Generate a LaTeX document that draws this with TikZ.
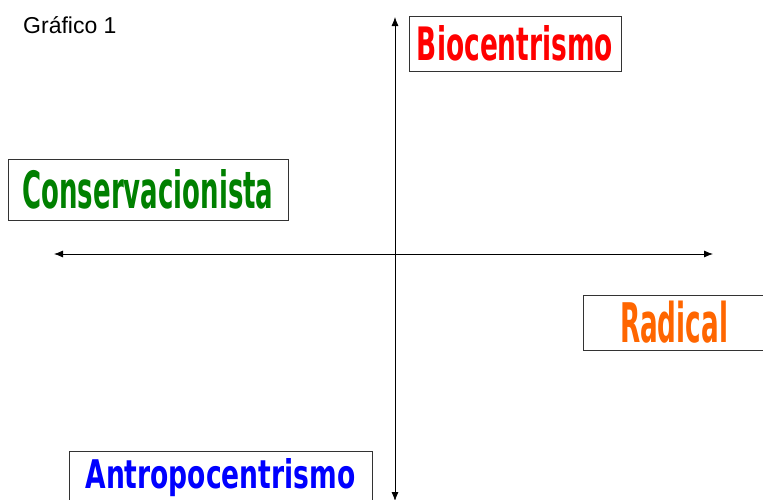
\documentclass[tikz,border=0pt]{standalone}
\usepackage{fontspec}
\setmainfont{Liberation Sans}
\newfontfamily\labelfont{DejaVu Sans}
\usetikzlibrary{arrows.meta}
\tikzset{labelbox/.style={draw=black!80, line width=0.8pt, inner sep=0pt, fill=white}}
\newcommand{\boxtext}[4]{\textcolor{#1}{\resizebox{#2pt}{#3pt}{\labelfont\bfseries #4}}}
\definecolor{verde}{RGB}{0,128,0}
\definecolor{laranja}{RGB}{255,102,0}

\begin{document}
\begin{tikzpicture}[x=1pt, y=-1pt]
	%%%%% START %%%%%
	\useasboundingbox (0,0) rectangle (763,499);
	
	\node[anchor=base west, inner sep=0pt, font=\fontsize{23}{26}\selectfont] (titulo) at (23,33) {Gráfico 1};
	
	\coordinate (cima) at (395,17);
	\coordinate (baixo) at (395,501);
	\coordinate (esquerda) at (54,254);
	\coordinate (direita) at (713,254);
	
	\draw[line width=0.8pt, {Latex[length=9pt,width=7pt]}-{Latex[length=9pt,width=7pt]}] (esquerda) -- (direita);
	\draw[line width=0.8pt, {Latex[length=9pt,width=7pt]}-{Latex[length=9pt,width=7pt]}] (cima) -- (baixo);
	
	\node[labelbox, minimum width=212pt, minimum height=55pt] (bio) at (515,43.5) {\boxtext{red}{196}{35}{Biocentrismo}};
	\node[labelbox, minimum width=280pt, minimum height=61pt] (cons) at (148,189.5) {\boxtext{verde}{251}{39}{Conservacionista}};
	\node[labelbox, minimum width=182pt, minimum height=55pt] (rad) at (674,322.5) {\boxtext{laranja}{108}{41.5}{Radical}};
	\node[labelbox, minimum width=303pt, minimum height=60pt, text height=30pt, text depth=16pt] (antro) at (220.5,481) {\boxtext{blue}{270}{30}{Antropocentrismo}};
	
	%%%%% END %%%%%
\end{tikzpicture}
\end{document}
